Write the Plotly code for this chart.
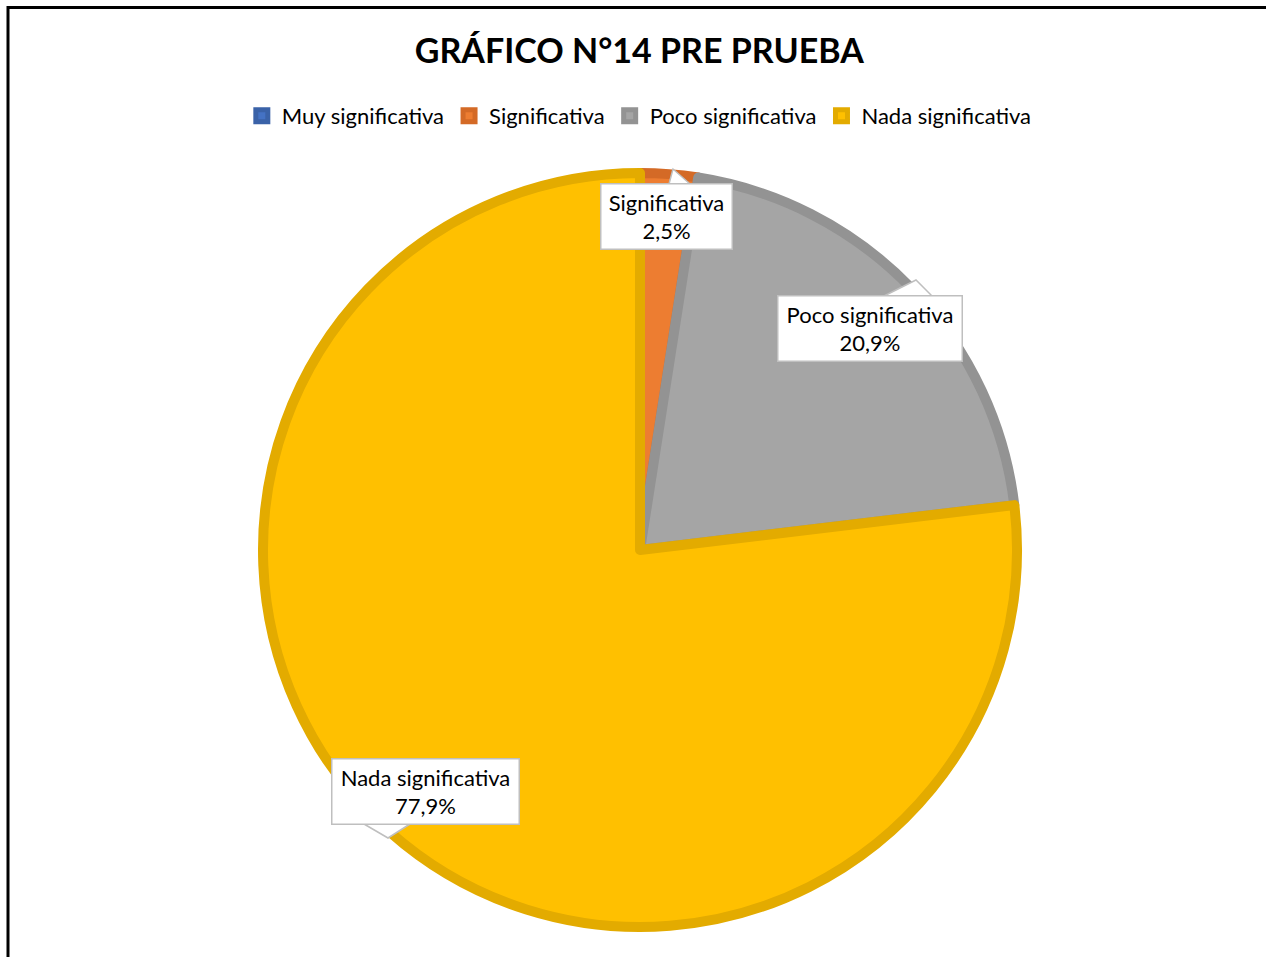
import plotly.graph_objects as go

W, H = 1266, 957

categories = ["Muy significativa", "Significativa", "Poco significativa", "Nada significativa"]
values = [0.0, 2.5, 20.9, 77.9]
pct_labels = ["0,0%", "2,5%", "20,9%", "77,9%"]
fill_colors = ["#4472C4", "#ED7D31", "#A5A5A5", "#FFC000"]
edge_colors = ["#3A62A8", "#D46A26", "#939393", "#E3AB00"]
title_text = "GRÁFICO N°14 PRE PRUEBA"

FONT = "Lato, Calibri, 'Open Sans', sans-serif"


def px(x):
    return x / W


def py(y):
    return 1 - y / H


fig = go.Figure()
fig.add_trace(go.Pie(
    labels=categories,
    values=values,
    sort=False,
    direction="clockwise",
    rotation=0,
    textinfo="none",
    hoverinfo="label+percent",
    marker=dict(colors=fill_colors, line=dict(color=edge_colors, width=10)),
    domain=dict(x=[px(263), px(1017)], y=[py(927), py(173)]),
    showlegend=True,
))

# data label boxes (callouts): centre position and box text width
label_pos = {
    "Significativa": (666, 216, 122),
    "Poco significativa": (870, 328, 175),
    "Nada significativa": (425, 791, 178),
}
pointers = {
    "Significativa": [(669, 184), (673, 169), (690, 184)],
    "Poco significativa": [(884, 296), (916, 280), (932, 296)],
    "Nada significativa": [(364, 824), (388, 838), (410, 824)],
}

shapes = []
# chart outer border
shapes.append(dict(type="rect", xref="paper", yref="paper",
                   x0=px(8), x1=1.02, y0=-0.02, y1=py(7.5),
                   line=dict(color="black", width=3), fillcolor="rgba(0,0,0,0)", layer="above"))

annotations = []
for cat, pct in zip(categories, pct_labels):
    if cat not in label_pos:
        continue
    cx, cy, w = label_pos[cat]
    pts = pointers[cat]
    path = "M " + " L ".join(f"{px(x)},{py(y)}" for x, y in pts)
    shapes.append(dict(type="path", xref="paper", yref="paper", path=path,
                       fillcolor="white", line=dict(color="#BFBFBF", width=1.5), layer="above"))
    annotations.append(dict(
        x=px(cx), y=py(cy), xref="paper", yref="paper",
        text=f"{cat}<br>{pct}", showarrow=False,
        font=dict(family=FONT, size=22, color="#000000"),
        bgcolor="white", bordercolor="#BFBFBF", borderwidth=1.5, borderpad=4,
        width=w, align="center", xanchor="center", yanchor="middle",
    ))

fig.update_layout(
    width=W, height=H,
    margin=dict(l=0, r=0, t=0, b=0),
    paper_bgcolor="white",
    plot_bgcolor="white",
    title=dict(text=f"<b>{title_text}</b>", x=0.505, xanchor="center",
               y=py(51), yanchor="middle",
               font=dict(family=FONT, size=34, color="#000000")),
    legend=dict(orientation="h", x=0.505, xanchor="center", y=py(116), yanchor="middle",
                font=dict(family=FONT, size=22, color="#000000"),
                itemclick=False, traceorder="normal", itemwidth=30),
    shapes=shapes,
    annotations=annotations,
    font=dict(family=FONT),
)

fig.write_html("out.html", config={"displayModeBar": False},
               post_script="document.body.style.margin='0';")
